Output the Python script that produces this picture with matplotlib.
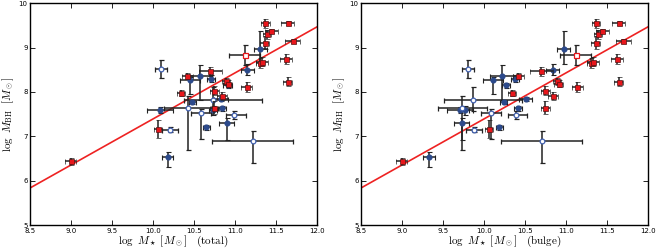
import numpy as np
import matplotlib
matplotlib.use("Agg")
import matplotlib.pyplot as plt

plt.rcParams['mathtext.fontset'] = 'cm'

# ellipticals (same x in both panels)
red_x = [9.00, 10.06, 10.34, 10.42, 10.70, 10.75, 10.84, 10.89, 10.91, 10.75, 11.14,
         11.30, 11.33, 11.36, 11.37, 11.39, 11.44, 11.64, 11.70, 11.62, 11.64]
red_y = [6.44, 7.16, 7.98, 8.36, 8.47, 8.03, 7.91, 8.24, 8.19, 7.65, 8.11,
         8.65, 8.68, 9.11, 9.55, 9.30, 9.37, 9.55, 9.15, 8.74, 8.23]
red_xe = [0.07, 0.05, 0.05, 0.07, 0.14, 0.05, 0.06, 0.05, 0.05, 0.05, 0.07,
          0.05, 0.07, 0.05, 0.05, 0.05, 0.08, 0.08, 0.09, 0.07, 0.05]
red_ye = [0.08, 0.20, 0.07, 0.07, 0.10, 0.10, 0.10, 0.08, 0.08, 0.15, 0.12,
          0.12, 0.10, 0.15, 0.10, 0.10, 0.05, 0.04, 0.05, 0.12, 0.10]

# open red square
ored_x = [11.12]
ored_y = [8.83]
ored_xe = [0.19]
ored_ye = [0.22]

# filled blue: total and bulge masses
blue_tot = [10.18, 10.09, 10.73, 10.45, 10.58, 10.48, 10.91, 10.71, 10.84, 10.83, 10.65, 11.15, 11.31, 10.90]
blue_bul = [9.33, 9.71, 9.77, 10.11, 10.22, 10.24, 10.27, 10.38, 10.42, 10.51, 10.19, 10.84, 10.97, 9.73]
blue_y = [6.53, 7.59, 7.59, 8.26, 8.35, 7.77, 8.15, 8.30, 7.63, 7.84, 7.20, 8.49, 8.98, 7.31]
blue_xe = [0.07, 0.16, 0.05, 0.12, 0.14, 0.04, 0.05, 0.05, 0.05, 0.08, 0.04, 0.08, 0.08, 0.09]
blue_ye_lo = [0.23, 0.07, 0.10, 0.30, 0.53, 0.05, 0.06, 0.08, 0.05, 0.05, 0.05, 0.10, 0.35, 0.40]
blue_ye_hi = [0.12, 0.07, 0.10, 0.08, 0.25, 0.05, 0.06, 0.08, 0.05, 0.05, 0.05, 0.15, 0.40, 0.10]

# open blue: total and bulge masses
oblue_tot = [10.10, 10.21, 10.43, 10.59, 10.73, 10.99, 11.22]
oblue_bul = [9.81, 9.88, 9.74, 10.09, 9.87, 10.39, 10.71]
oblue_y = [8.52, 7.15, 7.65, 7.52, 7.82, 7.48, 6.89]
oblue_xe_lo = [0.07, 0.10, 0.30, 0.12, 0.35, 0.10, 0.50]
oblue_xe_hi = [0.07, 0.10, 0.30, 0.12, 0.60, 0.14, 0.48]
oblue_ye_lo = [0.20, 0.05, 0.95, 0.57, 0.25, 0.08, 0.50]
oblue_ye_hi = [0.20, 0.05, 0.25, 0.10, 0.30, 0.08, 0.22]

# fit line
fit_x = [8.5, 12.0]
fit_y = [5.83, 9.47]

ebkw = dict(ls='none', ecolor='#222222', elinewidth=1.1, capsize=1.8, capthick=0.8)

fig = plt.figure(figsize=(6.58, 2.52), dpi=100)
ax1 = fig.add_axes([0.045, 0.107, 0.437, 0.880])
ax2 = fig.add_axes([0.548, 0.107, 0.437, 0.880])

for ax, bx, obx, lab in [(ax1, blue_tot, oblue_tot, 'total'), (ax2, blue_bul, oblue_bul, 'bulge')]:
    ax.plot(fit_x, fit_y, color='#ee2222', lw=1.2, zorder=1)
    ax.errorbar(bx, blue_y, xerr=blue_xe, yerr=[blue_ye_lo, blue_ye_hi], marker='o', ms=3.4,
                mfc='#2c4a8c', mec='#2c4a8c', zorder=2, **ebkw)
    ax.errorbar(obx, oblue_y, xerr=[oblue_xe_lo, oblue_xe_hi], yerr=[oblue_ye_lo, oblue_ye_hi],
                marker='o', ms=3.4, mfc='white', mec='#4060b0', mew=0.9, zorder=2, **ebkw)
    ax.errorbar(red_x, red_y, xerr=red_xe, yerr=red_ye, marker='s', ms=3.6,
                mfc='#e8161b', mec='#551111', mew=0.5, zorder=3, **ebkw)
    ax.errorbar(ored_x, ored_y, xerr=ored_xe, yerr=ored_ye, marker='s', ms=3.6,
                mfc='white', mec='#e8161b', mew=0.9, zorder=3, **ebkw)
    ax.set_xlim(8.5, 12.0)
    ax.set_ylim(5, 10)
    ax.set_xticks(np.arange(8.5, 12.01, 0.5))
    ax.set_yticks(range(5, 11))
    ax.tick_params(direction='in', top=True, right=True, labelsize=5, length=3.5, width=0.6)
    ax.tick_params(axis='x', pad=2)
    ax.tick_params(axis='y', pad=1.5)
    for s in ax.spines.values():
        s.set_linewidth(1.0)
    ax.set_xlabel(r'$\log\ M_\star\ [M_\odot]\ \ \ \mathrm{(' + lab + ')}$', fontsize=8, labelpad=0)
    ax.set_ylabel(r'$\log\ M_\mathrm{BH}\ \ [M_\odot]$', fontsize=8, labelpad=2)

fig.savefig('out.png', dpi=100)
